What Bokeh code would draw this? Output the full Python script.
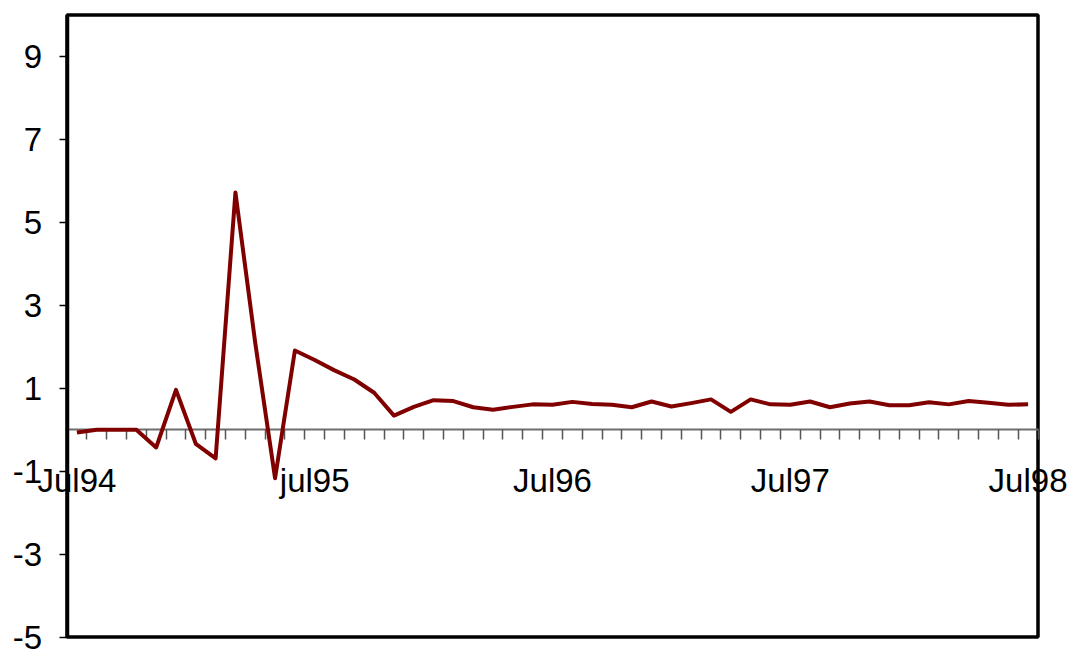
from bokeh.plotting import figure
from bokeh.models import FixedTicker, Range1d
from bokeh.embed import file_html
from bokeh.resources import INLINE

# Monthly series, July 1994 to July 1998
month_names = ["Jul", "Aug", "Sep", "Oct", "Nov", "Dec",
               "Jan", "Feb", "Mar", "Apr", "May", "Jun"]
months = []
for i in range(49):
    yr = 94 + (i + 6) // 12
    months.append(f"{month_names[i % 12]}{yr:02d}")

rate = [-0.07, 0.00, 0.00, 0.00, -0.43, 0.96, -0.34, -0.69, 5.72, 2.09,
        -1.17, 1.91, 1.68, 1.43, 1.21, 0.89, 0.34, 0.55, 0.71, 0.69,
        0.54, 0.48, 0.55, 0.61, 0.60, 0.67, 0.62, 0.60, 0.54, 0.68,
        0.56, 0.64, 0.73, 0.43, 0.73, 0.61, 0.60, 0.68, 0.54, 0.63,
        0.68, 0.59, 0.59, 0.66, 0.61, 0.69, 0.65, 0.60, 0.61]

tick_labels = ["Jul94", "jul95", "Jul96", "Jul97", "Jul98"]
tick_months = ["Jul94", "Jul95", "Jul96", "Jul97", "Jul98"]
y_ticks = [-5, -3, -1, 1, 3, 5, 7, 9]
y_limits = (-5, 10)

FONT = "Liberation Sans"
FSIZE = "33px"
W, H = 1067, 651

# Plot box in canvas pixels; the canvas itself is the Bokeh frame so that
# tick labels may run past the box edges without being clipped.
BOX_L, BOX_R, BOX_T, BOX_B = 66.5, 1037.5, 14.5, 636.5

n = len(months)
x_lo, x_hi = -0.5, n - 0.5
y_lo, y_hi = y_limits
ux = (BOX_R - BOX_L) / (x_hi - x_lo)
uy = (BOX_B - BOX_T) / (y_hi - y_lo)

x = list(range(n))

p = figure(width=W, height=H, output_backend="svg", toolbar_location=None,
           x_range=Range1d(x_lo - BOX_L / ux, x_hi + (W - BOX_R) / ux),
           y_range=Range1d(y_lo - (H - BOX_B) / uy, y_hi + BOX_T / uy),
           min_border=0, min_border_left=0, min_border_right=0,
           min_border_top=0, min_border_bottom=0)

p.background_fill_color = "white"
p.border_fill_color = "white"
p.outline_line_color = None
p.xgrid.visible = False
p.ygrid.visible = False

# plot box
p.quad(left=[x_lo], right=[x_hi], bottom=[y_lo], top=[y_hi],
       fill_color=None, line_color="black", line_width=3.5)

# value axis on the left edge of the box, plain hyphen for negatives
ya = p.yaxis[0]
ya.fixed_location = x_lo
ya.bounds = (y_lo, y_hi)
ya.ticker = FixedTicker(ticks=y_ticks)
ya.major_label_overrides = {t: str(t) for t in y_ticks}
ya.axis_line_color = "black"
ya.axis_line_width = 3.5
ya.major_tick_out = 8
ya.major_tick_in = 0
ya.major_tick_line_color = "black"
ya.major_tick_line_width = 1.5
ya.minor_tick_line_color = None
ya.major_label_text_font = FONT
ya.major_label_text_font_size = FSIZE
ya.major_label_text_color = "black"
ya.major_label_standoff = 17

# category axis crossing at zero, ticks between months
xa = p.xaxis[0]
xa.fixed_location = 0
xa.bounds = (x_lo, x_hi)
label_pos = [months.index(m) for m in tick_months]
xa.ticker = FixedTicker(ticks=label_pos,
                        minor_ticks=[k - 0.5 for k in range(n + 1)])
xa.major_label_overrides = {pos: lab for pos, lab in zip(label_pos, tick_labels)}
xa.axis_line_color = "#6e6e6e"
xa.axis_line_width = 2
xa.major_tick_line_color = None
xa.major_tick_out = 0
xa.major_tick_in = 0
xa.minor_tick_line_color = "#555555"
xa.minor_tick_line_width = 1.5
xa.minor_tick_out = 10
xa.minor_tick_in = 0
xa.major_label_text_font = FONT
xa.major_label_text_font_size = FSIZE
xa.major_label_text_color = "black"
xa.major_label_standoff = 22

p.line(x, rate, line_color="#800000", line_width=4, line_join="round",
       level="overlay")

open("out.html", "w").write(file_html(p, INLINE))
